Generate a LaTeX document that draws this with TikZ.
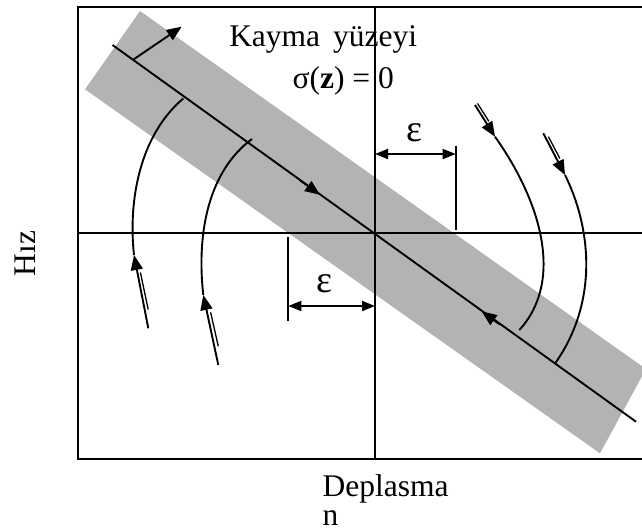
\documentclass[tikz,border=0pt]{standalone}
\usepackage{fontspec}
\setmainfont{Liberation Serif}
\usetikzlibrary{arrows.meta}
\definecolor{bandgray}{RGB}{179,179,179}
\begin{document}
\begin{tikzpicture}[x=1pt,y=-1pt,line width=1.9pt,
  tipline/.style={-{Triangle[length=15pt,width=12pt]}},
  dimline/.style={{Triangle[length=13pt,width=10pt]}-{Triangle[length=13pt,width=10pt]}},
  thinline/.style={line width=1.3pt},
  lbl/.style={inner sep=0pt,font=\fontsize{31.5}{36}\selectfont},
  epslbl/.style={inner sep=0pt,font=\fontsize{38}{40}\selectfont}]
\useasboundingbox (0,0) rectangle (642,531);
\clip (0,0) rectangle (642,531);
% sliding band
\fill[bandgray] (140,11) -- (85,89.3) -- (600,453.3) -- (646,369) -- cycle;
% frame and axes
\coordinate (tl) at (78.3,7.3);
\coordinate (br) at (700,459.3);
\draw (tl) rectangle (br);
\coordinate (vt) at (375,7.3);
\coordinate (vb) at (375,459.3);
\coordinate (hl) at (78.3,233.3);
\coordinate (hr) at (700,233.3);
\draw (vt) -- (vb);
\draw (hl) -- (hr);
% sliding line
\coordinate (d0) at (112.5,45);
\coordinate (d1) at (636,421.7);
\draw (d0) -- (d1);
\coordinate (a1s) at (300,180.3);
\coordinate (a1e) at (320,194.8);
\draw[tipline] (a1s) -- (a1e);
\coordinate (a2s) at (500,324.6);
\coordinate (a2e) at (481.7,311.4);
\draw[tipline] (a2s) -- (a2e);
\coordinate (ns) at (133,59.8);
\coordinate (ne) at (181.7,26.7);
\draw[tipline] (ns) -- (ne);
% left trajectories
\coordinate (c1s) at (148.3,328.3);
\coordinate (c1t) at (134,255);
\coordinate (c1e) at (183.3,98.5);
\draw[tipline] (c1s) -- (c1t);
\draw (c1t) .. controls (128,200) and (140,135) .. (c1e);
\coordinate (c1a) at (140.4,272.4);
\coordinate (c1b) at (148.2,309.4);
\draw[thinline] (c1a) -- (c1b);
\coordinate (c2s) at (218.3,365);
\coordinate (c2t) at (203.3,295);
\coordinate (c2e) at (252,139);
\draw[tipline] (c2s) -- (c2t);
\draw (c2t) .. controls (196,230) and (210,170) .. (c2e);
\coordinate (c2a) at (210.6,312.3);
\coordinate (c2b) at (218.3,346.3);
\draw[thinline] (c2a) -- (c2b);
% right trajectories
\coordinate (c3s) at (475,105);
\coordinate (c3t) at (495,136.7);
\coordinate (c3e) at (519.3,330);
\draw[tipline] (c3s) -- (c3t);
\draw (c3t) .. controls (540,200) and (565,280) .. (c3e);
\coordinate (c3a) at (477.5,103.4);
\coordinate (c3b) at (488.9,121.4);
\draw[thinline] (c3a) -- (c3b);
\coordinate (c4s) at (543.3,133.3);
\coordinate (c4t) at (565,175);
\coordinate (c4e) at (555,363.5);
\draw[tipline] (c4s) -- (c4t);
\draw (c4t) .. controls (590,225) and (600,300) .. (c4e);
\coordinate (c4a) at (548.4,136.6);
\coordinate (c4b) at (559.9,158.6);
\draw[thinline] (c4a) -- (c4b);
% epsilon bands
\coordinate (e1t) at (455.7,145.7);
\coordinate (e1b) at (455.7,230);
\draw (e1t) -- (e1b);
\coordinate (e1l) at (375,154);
\coordinate (e1r) at (455.7,154);
\draw[dimline] (e1l) -- (e1r);
\coordinate (e2t) at (288.3,236.7);
\coordinate (e2b) at (288.3,320.7);
\draw (e2t) -- (e2b);
\coordinate (e2l) at (288.3,306);
\coordinate (e2r) at (375,306);
\draw[dimline] (e2l) -- (e2r);
\node[epslbl] (eps1) at (414,132.5) {ε};
\node[epslbl] (eps2) at (324,283.3) {ε};
% texts
\node[lbl,anchor=base west] (kayma) at (228.3,46.7) {Kayma\hspace{13pt}yüzeyi};
\node[lbl,anchor=base west] (sigma) at (291.7,88) {σ(\textbf{z}) = 0};
\node[lbl,anchor=base west,rotate=90] (hiz) at (35,277) {Hız};
\node[lbl,anchor=base west] (depl) at (321.7,496) {Deplasma};
\node[lbl,anchor=base west] (nn) at (321.7,525) {n};
\end{tikzpicture}
\end{document}
